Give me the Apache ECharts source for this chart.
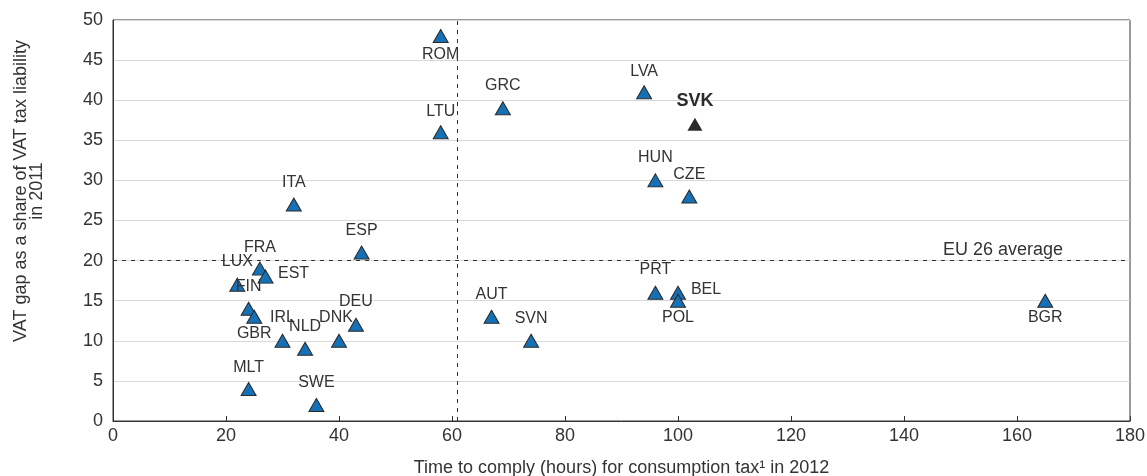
<!DOCTYPE html>
<html>
<head>
<meta charset="utf-8">
<script src="https://cdn.jsdelivr.net/npm/echarts@6/dist/echarts.min.js"></script>
<style>
  html, body { margin: 0; padding: 0; background: #fff; }
  #chart { width: 1147px; height: 476px; }
</style>
</head>
<body>
<div id="chart"></div>
<script>
// data
var countries = ['ROM', 'LTU', 'GRC', 'LVA', 'SVK', 'HUN', 'CZE', 'PRT', 'BEL', 'POL', 'BGR',
                 'ITA', 'ESP', 'FRA', 'LUX', 'EST', 'FIN', 'GBR', 'IRL', 'NLD', 'DNK', 'DEU',
                 'MLT', 'SWE', 'AUT', 'SVN'];
var hours  = [58, 58, 69, 94, 103, 96, 102, 96, 100, 100, 165,
              32, 44, 26, 22, 27, 24, 25, 30, 34, 40, 43,
              24, 36, 67, 74];
var vatGap = [48, 36, 39, 41, 37, 30, 28, 16, 16, 15, 15,
              27, 21, 19, 17, 18, 14, 13, 10, 9, 10, 12,
              4, 2, 13, 10];
var avgHours = 61;   // vertical dashed line
var avgGap = 20;     // EU 26 average
var highlight = 'SVK';

// label placement (pixels from marker centre), same order as countries
var labelOffsets = [[0, 19], [0, -21], [0, -23], [0, -21], [0, -23], [0, -23], [0, -22], [0, -23], [28, -3], [0, 17], [0, 17],
                    [0, -22], [0, -22], [0, -21], [0, -23], [28, -3], [0, -22], [0, 17], [0, -23], [0, -22], [-3, -23], [0, -23],
                    [0, -21], [0, -22], [0, -22], [0, -22]];

var textColor = '#333333';
var font = 'Liberation Sans, Arial, Helvetica, sans-serif';

var points = countries.map(function (c, i) {
    var item = {
        name: c,
        value: [hours[i], vatGap[i]],
        label: { offset: labelOffsets[i] }
    };
    if (c === highlight) {
        item.itemStyle = { color: '#2b2b2b', borderWidth: 0 };
        item.label.fontWeight = 'bold';
        item.label.fontSize = 18;
        item.label.color = '#2b2b2b';
    }
    return item;
});

var myChart = echarts.init(document.getElementById('chart'));
var option = {
    animation: false,
    textStyle: { fontFamily: font },
    grid: {
        left: 113,
        right: 17,
        top: 20,
        bottom: 55,
        outerBoundsMode: 'none',
        containLabel: false,
        show: true,
        borderColor: '#333',
        borderWidth: 1
    },
    xAxis: {
        type: 'value',
        min: 0,
        max: 180,
        interval: 20,
        name: 'Time to comply (hours) for consumption tax\u00b9 in 2012',
        nameLocation: 'middle',
        nameGap: 38,
        nameTextStyle: { fontSize: 18, color: textColor, fontFamily: font },
        axisLine: { lineStyle: { color: '#333', width: 1 } },
        axisTick: { show: true, inside: true, length: 5, lineStyle: { color: '#333' } },
        axisLabel: { fontSize: 18, color: textColor, margin: 6, fontFamily: font },
        splitLine: { show: false }
    },
    yAxis: {
        type: 'value',
        min: 0,
        max: 50,
        interval: 5,
        axisLine: { show: true, lineStyle: { color: '#333', width: 1 } },
        axisTick: { show: false },
        axisLabel: { fontSize: 18, color: textColor, margin: 10, fontFamily: font },
        splitLine: { show: true, lineStyle: { color: '#d9d9d9', width: 1 } }
    },
    graphic: [{
        type: 'text',
        x: 29,
        y: 191,
        rotation: Math.PI / 2,
        style: {
            text: 'VAT gap as a share of VAT tax liability\nin 2011',
            fontSize: 18,
            lineHeight: 16,
            fontFamily: font,
            fill: textColor,
            align: 'center',
            verticalAlign: 'middle'
        }
    }],
    series: [{
        type: 'scatter',
        symbol: 'triangle',
        symbolSize: [15, 13],
        itemStyle: {
            color: '#1570b5',
            borderColor: '#2b2b2b',
            borderWidth: 1,
            opacity: 1
        },
        label: {
            show: true,
            position: 'inside',
            formatter: '{b}',
            fontSize: 16,
            color: textColor,
            fontFamily: font
        },
        data: points,
        markLine: {
            silent: true,
            symbol: 'none',
            animation: false,
            lineStyle: { color: '#333', type: [4, 5], width: 1 },
            data: [
                {
                    yAxis: avgGap,
                    label: {
                        show: true,
                        formatter: 'EU 26 average',
                        position: 'insideEndTop',
                        distance: [67, 2],
                        fontSize: 18,
                        color: textColor,
                        fontFamily: font
                    }
                },
                { xAxis: avgHours, label: { show: false } }
            ]
        }
    }]
};
myChart.setOption(option);
</script>
</body>
</html>
